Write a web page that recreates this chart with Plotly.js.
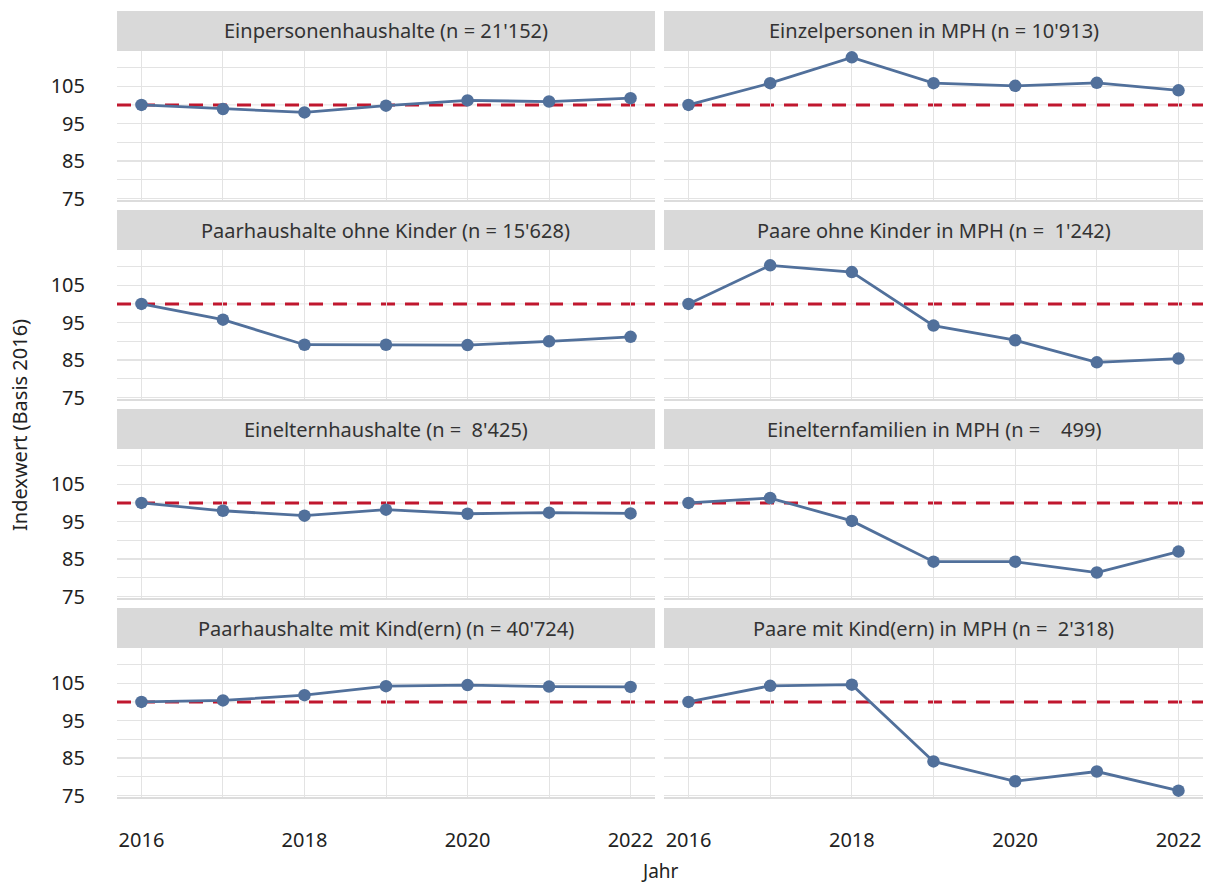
<!DOCTYPE html>
<html>
<head>
<meta charset="utf-8">
<script src="https://cdn.plot.ly/plotly-3.0.1.min.js"></script>
<style>html,body{margin:0;padding:0;background:#fff;}#chart{width:1210px;height:883px;}</style>
</head>
<body>
<div id="chart"></div>
<script>
const years = [2016, 2017, 2018, 2019, 2020, 2021, 2022];
const panelTitles = [
  "Einpersonenhaushalte (n = 21'152)",
  "Einzelpersonen in MPH (n = 10'913)",
  "Paarhaushalte ohne Kinder (n = 15'628)",
  "Paare ohne Kinder in MPH (n =  1'242)",
  "Einelternhaushalte (n =  8'425)",
  "Einelternfamilien in MPH (n =    499)",
  "Paarhaushalte mit Kind(ern) (n = 40'724)",
  "Paare mit Kind(ern) in MPH (n =  2'318)"
];
const einpersonen = [100, 98.9, 98.0, 99.8, 101.2, 100.9, 101.8];
const einzelMPH = [100, 105.8, 112.7, 105.8, 105.1, 105.9, 103.9];
const paarOhne = [100, 95.8, 89.1, 89.1, 89.0, 90.0, 91.2];
const paareOhneMPH = [100, 110.3, 108.5, 94.2, 90.3, 84.4, 85.4];
const eineltern = [100, 97.9, 96.6, 98.2, 97.1, 97.4, 97.2];
const einelternMPH = [100, 101.3, 95.2, 84.3, 84.3, 81.4, 87.0];
const paarMit = [100, 100.4, 101.8, 104.2, 104.5, 104.1, 104.0];
const paareMitMPH = [100, 104.3, 104.6, 84.1, 78.8, 81.4, 76.3];
const seriesList = [einpersonen, einzelMPH, paarOhne, paareOhneMPH, eineltern, einelternMPH, paarMit, paareMitMPH];
const baseline = 100;
const xTickVals = [2016, 2018, 2020, 2022];
const xMinorVals = [2017, 2019, 2021];
const yTickVals = [75, 85, 95, 105];
const yMinorVals = [80, 90, 110];
const xTitle = "Jahr";
const yTitle = "Indexwert (Basis 2016)";

const W = 1210, H = 883;
const colX = [[117, 655], [664, 1203]];
const rowY = [[11, 51, 200], [210, 250, 399], [409, 449, 598], [608, 648, 797]];
const FONT = "Noto Sans, sans-serif";
const lineColor = "#51709b";
const refColor = "#c0172e";
const gridColor = "#e3e3e3";

const traces = [];
const layout = {
  width: W, height: H,
  margin: {l: 0, r: 0, t: 0, b: 0},
  paper_bgcolor: "#ffffff",
  plot_bgcolor: "rgba(0,0,0,0)",
  showlegend: false,
  font: {family: FONT, size: 20, color: "#222"},
  shapes: [],
  annotations: []
};

seriesList.forEach((vals, i) => {
  const row = Math.floor(i / 2), col = i % 2;
  const suffix = i === 0 ? "" : String(i + 1);
  traces.push({
    x: years, y: vals, type: "scatter", mode: "lines+markers",
    xaxis: "x" + suffix, yaxis: "y" + suffix,
    line: {color: lineColor, width: 2.8},
    marker: {color: lineColor, size: 12.5},
    hoverinfo: "x+y"
  });
  const xd = [colX[col][0] / W, colX[col][1] / W];
  const yd = [1 - rowY[row][2] / H, 1 - rowY[row][1] / H];
  layout["xaxis" + suffix] = {
    domain: xd, range: [2015.7, 2022.3],
    tickvals: xTickVals, ticktext: xTickVals.map(String),
    showticklabels: row === 3,
    ticks: "", ticklabelstandoff: 24,
    tickfont: {family: FONT, size: 20, color: "#222"},
    showgrid: true, gridcolor: gridColor, gridwidth: 1.2,
    minor: {tickvals: xMinorVals, showgrid: true, gridcolor: gridColor, gridwidth: 1},
    zeroline: false,
    showline: true, linecolor: "#dcdcdc", linewidth: 2, mirror: false,
    anchor: "y" + suffix, fixedrange: true
  };
  layout["yaxis" + suffix] = {
    domain: yd, range: [74.6, 114.4],
    tickvals: yTickVals, ticktext: yTickVals.map(String),
    showticklabels: col === 0,
    ticks: "", ticklabelstandoff: 31,
    tickfont: {family: FONT, size: 20, color: "#222"},
    showgrid: true, gridcolor: gridColor, gridwidth: 1.2,
    minor: {tickvals: yMinorVals, showgrid: true, gridcolor: gridColor, gridwidth: 1},
    zeroline: false, showline: false,
    anchor: "x" + suffix, fixedrange: true
  };
  // light grid line at the baseline, then the red dashed reference line on top of it
  layout.shapes.push({
    type: "line", xref: "x" + suffix + " domain", yref: "y" + suffix,
    x0: 0, x1: 1, y0: baseline, y1: baseline,
    line: {color: gridColor, width: 1},
    layer: "below"
  });
  layout.shapes.push({
    type: "line", xref: "x" + suffix + " domain", yref: "y" + suffix,
    x0: 0, x1: 1, y0: baseline, y1: baseline,
    line: {color: refColor, width: 3, dash: "14px,10px"},
    layer: "below"
  });
  layout.shapes.push({
    type: "rect", xref: "paper", yref: "paper",
    x0: xd[0], x1: xd[1], y0: 1 - rowY[row][1] / H, y1: 1 - rowY[row][0] / H,
    fillcolor: "#d9d9d9", line: {width: 0}, layer: "below"
  });
  layout.annotations.push({
    xref: "paper", yref: "paper",
    x: (xd[0] + xd[1]) / 2, y: 1 - (rowY[row][0] + rowY[row][1]) / 2 / H,
    text: panelTitles[i].replace(/ /g, "\u00a0"),
    showarrow: false, xanchor: "center", yanchor: "middle",
    font: {family: FONT, size: 20, color: "#333"}
  });
});

layout.annotations.push({
  xref: "paper", yref: "paper", x: 660 / W, y: 1 - 871 / H,
  text: xTitle, showarrow: false, xanchor: "center", yanchor: "middle",
  font: {family: FONT, size: 19, color: "#222"}
});
layout.annotations.push({
  xref: "paper", yref: "paper", x: 19 / W, y: 1 - 425 / H,
  text: yTitle, showarrow: false, textangle: -90, xanchor: "center", yanchor: "middle",
  font: {family: FONT, size: 20, color: "#222"}
});

Plotly.newPlot("chart", traces, layout, {displayModeBar: false, staticPlot: true});
</script>
</body>
</html>
